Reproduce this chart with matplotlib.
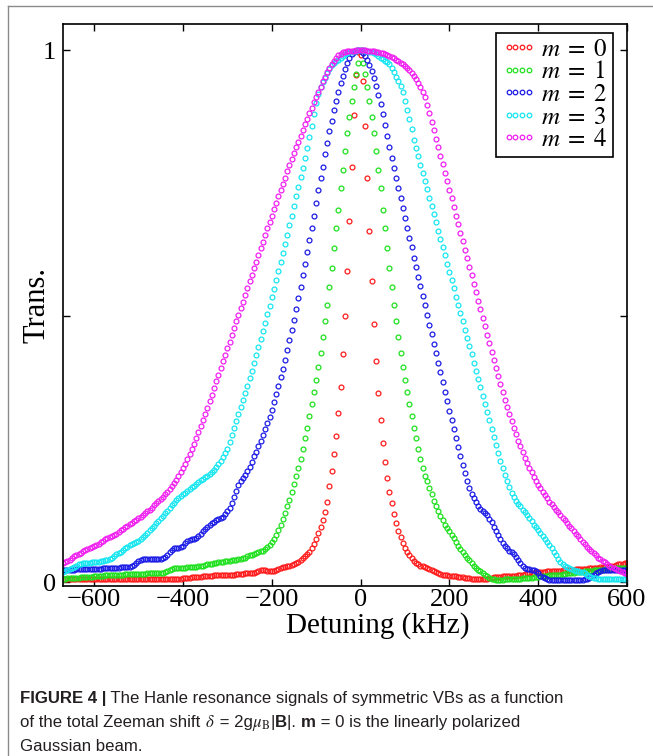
import numpy as np
import matplotlib
matplotlib.use("Agg")
import matplotlib.pyplot as plt
from matplotlib import font_manager
from matplotlib.lines import Line2D

# ---------------- data ----------------
detuning = np.arange(-670, 605, 5)  # kHz sampling grid

trans_m0 = [
    0.006,0.006,0.006,0.005,0.005,0.005,0.005,0.005,0.005,0.005,
    0.005,0.005,0.005,0.005,0.005,0.005,0.005,0.005,0.005,0.005,
    0.005,0.005,0.005,0.005,0.005,0.005,0.005,0.005,0.005,0.005,
    0.005,0.005,0.005,0.005,0.005,0.005,0.005,0.005,0.005,0.005,
    0.005,0.005,0.005,0.005,0.006,0.006,0.006,0.006,0.006,0.006,
    0.005,0.005,0.006,0.006,0.007,0.007,0.008,0.008,0.009,0.009,
    0.010,0.010,0.010,0.011,0.011,0.012,0.012,0.012,0.013,0.013,
    0.013,0.013,0.013,0.014,0.014,0.014,0.014,0.014,0.015,0.015,
    0.015,0.015,0.016,0.016,0.016,0.016,0.017,0.018,0.020,0.022,
    0.022,0.022,0.021,0.021,0.021,0.021,0.022,0.024,0.026,0.028,
    0.029,0.030,0.031,0.032,0.034,0.036,0.038,0.041,0.045,0.048,
    0.052,0.057,0.064,0.072,0.081,0.092,0.104,0.117,0.132,0.150,
    0.180,0.208,0.240,0.275,0.317,0.367,0.428,0.500,0.584,0.679,
    0.780,0.877,0.954,0.996,0.991,0.941,0.858,0.760,0.659,0.566,
    0.485,0.415,0.356,0.305,0.262,0.226,0.196,0.170,0.148,0.128,
    0.110,0.096,0.084,0.073,0.064,0.056,0.050,0.045,0.040,0.036,
    0.033,0.031,0.030,0.029,0.027,0.025,0.022,0.020,0.018,0.016,
    0.015,0.014,0.013,0.013,0.012,0.012,0.011,0.011,0.010,0.010,
    0.009,0.008,0.007,0.007,0.006,0.006,0.005,0.005,0.005,0.005,
    0.005,0.006,0.007,0.008,0.009,0.010,0.010,0.010,0.011,0.011,
    0.011,0.011,0.012,0.012,0.012,0.013,0.013,0.014,0.015,0.016,
    0.016,0.017,0.017,0.018,0.018,0.019,0.019,0.019,0.020,0.020,
    0.020,0.020,0.021,0.021,0.021,0.022,0.022,0.022,0.023,0.023,
    0.023,0.024,0.024,0.024,0.025,0.025,0.025,0.026,0.026,0.026,
    0.027,0.027,0.028,0.028,0.029,0.029,0.030,0.031,0.031,0.032,
    0.033,0.034,0.034,0.035,0.036,
]

trans_m1 = [
    0.006,0.006,0.007,0.007,0.007,0.008,0.008,0.008,0.009,0.009,
    0.009,0.010,0.010,0.010,0.011,0.011,0.012,0.012,0.012,0.013,
    0.013,0.013,0.013,0.014,0.014,0.014,0.014,0.014,0.015,0.015,
    0.015,0.015,0.015,0.015,0.015,0.015,0.015,0.015,0.016,0.016,
    0.016,0.016,0.016,0.016,0.016,0.017,0.018,0.020,0.023,0.025,
    0.026,0.026,0.026,0.027,0.027,0.027,0.028,0.028,0.028,0.029,
    0.029,0.030,0.030,0.031,0.032,0.033,0.034,0.034,0.035,0.036,
    0.037,0.038,0.038,0.039,0.040,0.040,0.041,0.042,0.042,0.043,
    0.044,0.045,0.046,0.048,0.050,0.051,0.053,0.055,0.057,0.058,
    0.059,0.062,0.066,0.070,0.075,0.080,0.088,0.097,0.107,0.118,
    0.130,0.142,0.155,0.170,0.185,0.200,0.215,0.232,0.250,0.270,
    0.290,0.312,0.335,0.357,0.380,0.405,0.430,0.460,0.490,0.520,
    0.555,0.590,0.627,0.665,0.700,0.740,0.775,0.810,0.845,0.875,
    0.905,0.930,0.955,0.975,1.000,0.975,0.955,0.930,0.905,0.875,
    0.845,0.810,0.775,0.740,0.700,0.665,0.627,0.590,0.555,0.520,
    0.490,0.460,0.430,0.405,0.380,0.357,0.335,0.312,0.290,0.270,
    0.250,0.232,0.215,0.200,0.190,0.177,0.165,0.153,0.142,0.133,
    0.124,0.116,0.108,0.101,0.095,0.089,0.082,0.075,0.068,0.062,
    0.056,0.051,0.046,0.041,0.036,0.031,0.027,0.023,0.020,0.017,
    0.014,0.011,0.008,0.006,0.005,0.004,0.004,0.004,0.004,0.005,
    0.005,0.005,0.005,0.006,0.006,0.006,0.006,0.007,0.007,0.007,
    0.008,0.008,0.009,0.010,0.010,0.011,0.011,0.012,0.012,0.013,
    0.013,0.013,0.014,0.014,0.014,0.015,0.015,0.016,0.016,0.017,
    0.017,0.018,0.018,0.019,0.019,0.020,0.020,0.021,0.021,0.022,
    0.022,0.022,0.023,0.023,0.024,0.024,0.025,0.025,0.025,0.026,
    0.026,0.026,0.027,0.027,0.027,
]

trans_m2 = [
    0.023,0.023,0.023,0.023,0.023,0.023,0.024,0.024,0.024,0.024,
    0.024,0.024,0.024,0.025,0.025,0.025,0.025,0.025,0.026,0.026,
    0.026,0.026,0.027,0.027,0.027,0.027,0.028,0.028,0.028,0.028,
    0.029,0.030,0.032,0.036,0.040,0.042,0.043,0.043,0.043,0.043,
    0.043,0.043,0.044,0.044,0.044,0.045,0.047,0.051,0.057,0.061,
    0.063,0.063,0.064,0.065,0.068,0.073,0.077,0.079,0.080,0.081,
    0.083,0.086,0.090,0.095,0.100,0.104,0.107,0.110,0.113,0.116,
    0.118,0.120,0.123,0.127,0.133,0.140,0.149,0.160,0.172,0.183,
    0.190,0.195,0.201,0.209,0.217,0.226,0.236,0.245,0.255,0.265,
    0.276,0.287,0.299,0.311,0.324,0.338,0.353,0.368,0.385,0.401,
    0.418,0.436,0.455,0.473,0.493,0.513,0.534,0.555,0.577,0.598,
    0.621,0.643,0.666,0.689,0.712,0.736,0.759,0.781,0.804,0.826,
    0.847,0.867,0.887,0.905,0.922,0.938,0.952,0.965,0.976,0.985,
    0.992,0.996,0.999,1.000,0.998,0.995,0.989,0.982,0.972,0.960,
    0.947,0.932,0.916,0.898,0.879,0.859,0.838,0.818,0.798,0.779,
    0.760,0.741,0.722,0.703,0.684,0.666,0.647,0.629,0.610,0.592,
    0.574,0.556,0.538,0.520,0.502,0.484,0.466,0.448,0.430,0.412,
    0.394,0.376,0.358,0.340,0.322,0.305,0.288,0.271,0.254,0.237,
    0.220,0.204,0.189,0.176,0.166,0.158,0.150,0.143,0.137,0.133,
    0.130,0.126,0.119,0.112,0.104,0.096,0.088,0.080,0.073,0.068,
    0.063,0.059,0.056,0.052,0.047,0.042,0.036,0.030,0.027,0.025,
    0.024,0.023,0.022,0.021,0.017,0.012,0.009,0.007,0.005,0.004,
    0.004,0.004,0.004,0.004,0.004,0.004,0.004,0.004,0.004,0.004,
    0.004,0.004,0.004,0.004,0.004,0.005,0.006,0.008,0.011,0.014,
    0.017,0.019,0.021,0.022,0.023,0.023,0.023,0.023,0.023,0.023,
    0.023,0.023,0.023,0.023,0.023,
]

trans_m3 = [
    0.018,0.021,0.023,0.025,0.027,0.029,0.031,0.033,0.034,0.035,
    0.035,0.036,0.036,0.037,0.037,0.038,0.038,0.039,0.040,0.041,
    0.042,0.044,0.046,0.049,0.052,0.055,0.057,0.060,0.063,0.066,
    0.069,0.072,0.074,0.076,0.078,0.081,0.085,0.089,0.093,0.097,
    0.101,0.105,0.110,0.115,0.120,0.125,0.129,0.134,0.139,0.144,
    0.149,0.154,0.158,0.162,0.165,0.168,0.171,0.174,0.178,0.181,
    0.185,0.188,0.191,0.194,0.197,0.200,0.203,0.207,0.211,0.216,
    0.222,0.228,0.235,0.242,0.250,0.263,0.276,0.290,0.303,0.316,
    0.329,0.342,0.355,0.369,0.383,0.397,0.411,0.426,0.441,0.456,
    0.471,0.487,0.503,0.519,0.535,0.551,0.568,0.585,0.602,0.619,
    0.636,0.653,0.671,0.689,0.707,0.725,0.743,0.761,0.779,0.797,
    0.815,0.836,0.858,0.880,0.900,0.918,0.930,0.940,0.948,0.956,
    0.964,0.972,0.976,0.979,0.982,0.986,0.989,0.992,0.994,0.996,
    0.997,0.998,0.999,1.000,1.000,1.000,0.999,0.998,0.997,0.996,
    0.994,0.992,0.989,0.986,0.983,0.980,0.977,0.973,0.966,0.958,
    0.950,0.942,0.933,0.922,0.905,0.888,0.871,0.852,0.830,0.815,
    0.800,0.784,0.769,0.753,0.738,0.722,0.707,0.691,0.676,0.660,
    0.645,0.629,0.614,0.598,0.583,0.567,0.552,0.536,0.521,0.505,
    0.490,0.474,0.459,0.443,0.428,0.412,0.397,0.381,0.366,0.350,
    0.335,0.319,0.304,0.288,0.273,0.258,0.243,0.228,0.214,0.201,
    0.189,0.178,0.168,0.160,0.153,0.147,0.142,0.136,0.131,0.126,
    0.120,0.114,0.108,0.103,0.098,0.093,0.087,0.081,0.075,0.069,
    0.063,0.057,0.050,0.044,0.038,0.034,0.031,0.028,0.026,0.024,
    0.022,0.021,0.020,0.019,0.018,0.016,0.014,0.012,0.010,0.008,
    0.007,0.006,0.006,0.006,0.006,0.006,0.006,0.006,0.006,0.006,
    0.006,0.006,0.006,0.006,0.006,
]

trans_m4 = [
    0.035,0.037,0.040,0.042,0.045,0.048,0.050,0.053,0.055,0.058,
    0.060,0.062,0.064,0.066,0.068,0.070,0.072,0.075,0.077,0.080,
    0.082,0.084,0.086,0.089,0.091,0.094,0.097,0.100,0.103,0.106,
    0.109,0.111,0.114,0.117,0.120,0.123,0.126,0.129,0.133,0.136,
    0.140,0.144,0.148,0.152,0.156,0.160,0.165,0.170,0.175,0.180,
    0.186,0.192,0.199,0.206,0.214,0.222,0.231,0.240,0.250,0.260,
    0.271,0.282,0.293,0.304,0.316,0.328,0.340,0.352,0.365,0.377,
    0.390,0.402,0.415,0.427,0.440,0.452,0.465,0.477,0.490,0.502,
    0.515,0.527,0.540,0.552,0.565,0.577,0.590,0.602,0.615,0.627,
    0.640,0.652,0.665,0.677,0.689,0.701,0.713,0.725,0.737,0.749,
    0.760,0.772,0.783,0.795,0.806,0.817,0.828,0.839,0.850,0.861,
    0.871,0.882,0.892,0.902,0.912,0.922,0.931,0.941,0.950,0.959,
    0.967,0.974,0.980,0.985,0.990,0.993,0.996,0.997,0.998,0.998,
    0.999,0.999,1.000,1.000,1.000,1.000,1.000,0.999,0.999,0.998,
    0.998,0.997,0.996,0.995,0.994,0.993,0.991,0.989,0.987,0.985,
    0.982,0.979,0.976,0.973,0.970,0.966,0.962,0.957,0.952,0.946,
    0.939,0.931,0.922,0.912,0.897,0.881,0.865,0.849,0.833,0.817,
    0.801,0.785,0.769,0.753,0.737,0.721,0.705,0.689,0.673,0.657,
    0.641,0.625,0.609,0.593,0.577,0.561,0.545,0.529,0.513,0.497,
    0.481,0.465,0.449,0.433,0.417,0.402,0.387,0.372,0.357,0.343,
    0.329,0.316,0.303,0.290,0.278,0.266,0.255,0.244,0.234,0.224,
    0.215,0.206,0.198,0.190,0.183,0.176,0.169,0.163,0.157,0.151,
    0.146,0.141,0.136,0.131,0.126,0.121,0.116,0.111,0.106,0.101,
    0.096,0.091,0.086,0.081,0.076,0.071,0.066,0.062,0.058,0.054,
    0.050,0.046,0.043,0.040,0.037,0.034,0.031,0.029,0.027,0.025,
    0.023,0.021,0.019,0.017,0.015,
]

series = [trans_m0, trans_m1, trans_m2, trans_m3, trans_m4]
labels = [r"$m\;=\;0$", r"$m\;=\;1$", r"$m\;=\;2$", r"$m\;=\;3$", r"$m\;=\;4$"]
colors = ["#ff1a1a", "#1ee01e", "#1a1ae6", "#14e6f0", "#f01ef0"]

xticks = [-600, -400, -200, 0, 200, 400, 600]
xticklabels = ["\u2212600", "\u2212400", "\u2212200", "0", "200", "400", "600"]
yticks = [0, 0.5, 1]
yticklabels = ["0", "", "1"]

# ---------------- style ----------------
plt.rcParams["font.family"] = ["Liberation Serif", "DejaVu Serif"]
plt.rcParams["mathtext.fontset"] = "stix"

W, H = 653, 756
fig = plt.figure(figsize=(W / 100, H / 100), dpi=100)

ax_l, ax_r, ax_t, ax_b = 63, 627, 24, 586
ax = fig.add_axes([ax_l / W, 1 - ax_b / H, (ax_r - ax_l) / W, (ax_b - ax_t) / H])

for vals, lab, col in zip(series, labels, colors):
    n = min(len(vals), len(detuning))
    ax.plot(detuning[:n], vals[:n], linestyle="none", marker="o", markersize=3.5,
            markerfacecolor="none", markeredgecolor=col, markeredgewidth=0.9,
            label=lab)

ax.set_xlim(-670, 600)
ax.set_ylim(-0.0075, 1.049)
ax.set_xticks(xticks)
ax.set_xticklabels(xticklabels)
ax.set_yticks(yticks)
ax.set_yticklabels(yticklabels)
ax.tick_params(direction="in", top=True, right=True, length=5, width=1.0,
               labelsize=19, pad=2)
ax.tick_params(axis="y", pad=5)
for sp in ax.spines.values():
    sp.set_linewidth(1.2)

ax.set_xlabel("Detuning (kHz)", fontsize=21)
ax.xaxis.set_label_coords((378 - ax_l) / (ax_r - ax_l), -0.046)
ax.set_ylabel("Trans.", fontsize=22)
ax.yaxis.set_label_coords(-0.021, 0.5)

leg = ax.legend(loc="upper right",
                bbox_to_anchor=((613 - ax_l) / (ax_r - ax_l), 1 - (33 - ax_t) / (ax_b - ax_t)),
                borderaxespad=0, numpoints=4, handlelength=1.4, handletextpad=0.2,
                labelspacing=0.0, borderpad=0.22, fontsize=18, fancybox=False,
                framealpha=1, edgecolor="black")
leg.get_frame().set_linewidth(1.2)
for h in leg.legend_handles:
    h.set_markersize(3.3)

# page frame lines
fig.add_artist(Line2D([8 / W, 1], [1 - 6 / H, 1 - 6 / H], transform=fig.transFigure,
                      color="#8a8a8a", lw=1.0))
fig.add_artist(Line2D([8 / W, 8 / W], [0, 1 - 6 / H], transform=fig.transFigure,
                      color="#8a8a8a", lw=1.0))

# ---------------- caption ----------------
names = {f.name for f in font_manager.fontManager.ttflist}
narrow = "Liberation Sans Narrow" in names
cap_family = (["Liberation Sans Narrow"] if narrow else ["Liberation Sans"]) + ["DejaVu Sans"]
cap_size = 13.5 if narrow else 12.1

renderer = fig.canvas.get_renderer()


def draw_runs(x_px, y_px, runs):
    x = x_px
    for txt, weight in runs:
        t = fig.text(x / W, 1 - y_px / H, txt, fontsize=cap_size, family=cap_family,
                     fontweight=weight, va="baseline", ha="left", color="#231f20")
        bb = t.get_window_extent(renderer)
        x += bb.width


draw_runs(20, 703, [("FIGURE 4 |", "bold"),
                    (" The Hanle resonance signals of symmetric VBs as a function", "normal")])
draw_runs(20, 727, [("of the total Zeeman shift ", "normal"), (r"$\delta$", "normal"),
                    (" = 2g", "normal"), (r"$\mu_{\mathrm{B}}$", "normal"),
                    ("|", "normal"), ("B", "bold"), ("|. ", "normal"), ("m", "bold"),
                    (" = 0 is the linearly polarized", "normal")])
draw_runs(20, 751, [("Gaussian beam.", "normal")])

fig.savefig("out.png", dpi=100)
